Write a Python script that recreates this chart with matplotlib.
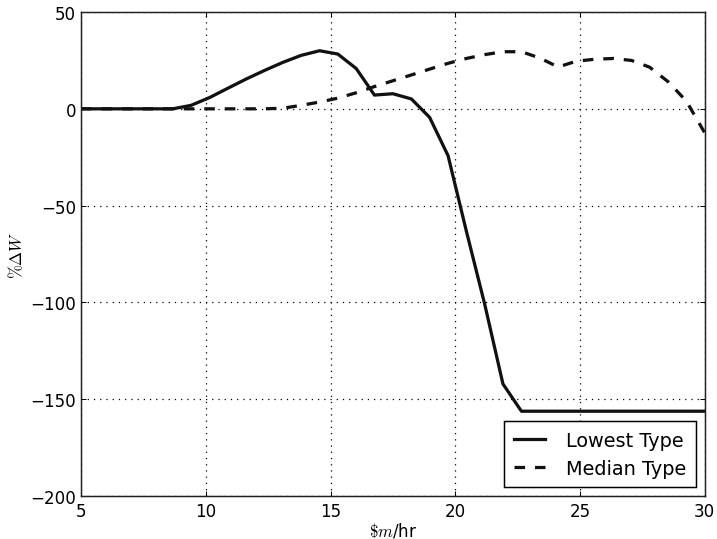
import matplotlib
matplotlib.use("Agg")
import matplotlib.pyplot as plt

# ── Data ──────────────────────────────────────────────────────────────────────
wage = [5.00, 5.74, 6.47, 7.21, 7.94, 8.68, 9.41, 10.15, 10.88, 11.62,
        12.35, 13.09, 13.82, 14.56, 15.29, 16.03, 16.76, 17.50, 18.24, 18.97,
        19.71, 20.44, 21.18, 21.91, 22.65, 23.38, 24.12, 24.85, 25.59, 26.32,
        27.06, 27.79, 28.53, 29.26, 30.00]

lowest = [0, 0, 0, 0, 0, 0, 1.8, 5.8, 10.6, 15.4,
          19.8, 24.0, 27.6, 30.0, 28.3, 20.8, 7.1, 7.8, 5.1, -4.4,
          -24.2, -63, -101, -142.1, -156.2, -156.2, -156.2, -156.2, -156.2, -156.2,
          -156.2, -156.2, -156.2, -156.2, -156.2]

median = [0, 0, 0, 0, 0, 0, 0, 0, 0, 0,
          0, 0.3, 1.8, 3.5, 5.5, 8.3, 11.5, 14.5, 17.5, 20.5,
          23.5, 26.0, 28.0, 29.5, 29.5, 26.3, 21.6, 24.6, 25.6, 26.0,
          25.0, 21.5, 14.0, 4.0, -12.5]

labels = ["Lowest Type", "Median Type"]
xticks = [5, 10, 15, 20, 25, 30]
yticks = [-200, -150, -100, -50, 0, 50]

# ── Style ─────────────────────────────────────────────────────────────────────
plt.rcParams["font.family"] = "DejaVu Sans"
plt.rcParams["font.size"] = 13.5
plt.rcParams["mathtext.fontset"] = "cm"
plt.rcParams["lines.scale_dashes"] = False
plt.rcParams["xtick.direction"] = "in"
plt.rcParams["ytick.direction"] = "in"
plt.rcParams["xtick.top"] = True
plt.rcParams["ytick.right"] = True
plt.rcParams["xtick.major.size"] = 4
plt.rcParams["ytick.major.size"] = 4
plt.rcParams["xtick.major.pad"] = 5
plt.rcParams["ytick.major.pad"] = 4
plt.rcParams["axes.linewidth"] = 1.2
plt.rcParams["axes.edgecolor"] = "#222222"

fig = plt.figure(figsize=(8, 6.025), dpi=89.625)
ax = fig.add_axes([0.113, 0.0796, 0.870, 0.8963])

ax.plot(wage, lowest, color="#111111", linewidth=2.6, label=labels[0])
ax.plot(wage, median, color="#111111", linewidth=2.6, linestyle=(0, (8.5, 8)),
        label=labels[1])

ax.set_xlim(5, 30)
ax.set_ylim(-200, 50)
ax.set_xticks(xticks)
ax.set_yticks(yticks)
ax.grid(True, color="black", linestyle=(0, (1, 4)), linewidth=1.0)

ax.set_xlabel(r"$\$m$/hr", labelpad=0)
ax.set_ylabel(r"$\%\Delta W$", labelpad=3)

leg = ax.legend(loc="lower right", fancybox=False, framealpha=1,
                edgecolor="black", fontsize=15.5, handlelength=1.6,
                handletextpad=1.1, borderpad=0.5, labelspacing=0.45,
                borderaxespad=0.45)
leg.get_frame().set_linewidth(1.2)

fig.savefig("out.png", dpi=89.625)
